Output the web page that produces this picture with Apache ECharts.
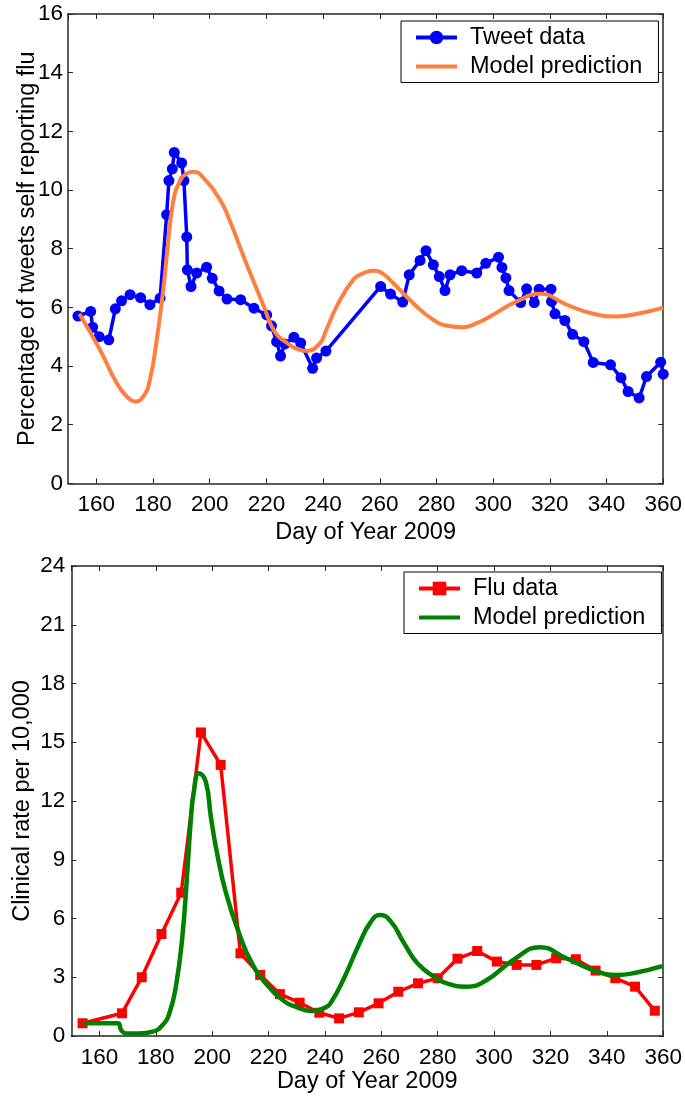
<!DOCTYPE html>
<html><head><meta charset="utf-8">
<script src="https://cdn.jsdelivr.net/npm/echarts@6/dist/echarts.min.js"></script>
<style>html,body{margin:0;padding:0;background:#fff}#c{width:685px;height:1096px}</style>
</head><body><div id="c"></div>
<script>
// ---- Top panel: tweets ----
const tweetDays = [153.5,158,158.7,161,164.4,166.7,168.9,171.9,175.6,178.9,182.5,184.8,185.6,186.8,187.5,190.1,190.9,191.9,192.1,193.4,195.4,198.9,200.9,203.3,206.1,210.9,215.6,220.1,221.8,223.6,225,226.5,229.7,232.1,236.3,237.7,241,260.3,263.8,268.1,270.4,274.2,276.3,278.9,281,283,284.8,288.9,294.2,297.4,301.9,303.1,304.5,305.6,309.7,311.8,314.5,316.2,320.4,320.6,321.8,325.3,328,332,335.3,341.4,345.1,347.6,351.5,354.1,359.1,360];
const tweetValues = [5.7,5.86,5.32,5.0,4.89,5.95,6.22,6.43,6.33,6.09,6.31,9.16,10.32,10.72,11.28,10.92,10.32,8.4,7.28,6.71,7.17,7.37,6.99,6.56,6.28,6.26,5.97,5.74,5.37,4.83,4.34,4.75,4.98,4.78,3.92,4.27,4.51,6.71,6.45,6.18,7.11,7.6,7.93,7.45,7.05,6.57,7.11,7.25,7.17,7.5,7.71,7.36,7.0,6.57,6.16,6.63,6.16,6.62,6.62,6.2,5.78,5.55,5.08,4.83,4.12,4.04,3.6,3.13,2.91,3.64,4.13,3.72];
const modelTopDays = [154,161.3,167.2,170.7,173.6,176.6,178.9,181.3,183.6,185,187.1,189.5,191.9,194.2,198.9,203.6,206,210.7,212.4,218.9,223,227.1,230,234.2,238.9,241,244.8,250.6,254,257.7,261,264.7,271.8,278.9,284,289.4,294,298.9,308.3,316.5,325.9,335.3,343.5,351.8,360];
const modelTopValues = [5.78,4.55,3.41,2.96,2.79,2.96,3.53,4.89,6.6,7.9,9.6,10.3,10.56,10.62,10.29,9.67,9.21,8.05,7.62,6.08,5.15,4.8,4.62,4.51,4.78,5.2,6.03,6.94,7.15,7.25,7.15,6.83,6.14,5.57,5.37,5.32,5.45,5.69,6.2,6.46,6.09,5.78,5.69,5.8,5.99];

// ---- Bottom panel: clinical flu ----
const fluDays = [154,168,175,182,189,196,203,210,217,224,231,238,245,252,259,266,273,280,287,294,301,308,315,322,329,336,343,350,357];
const fluValues = [0.65,1.16,3.0,5.21,7.32,15.5,13.84,4.22,3.12,2.14,1.7,1.19,0.9,1.21,1.67,2.26,2.69,2.95,3.95,4.34,3.8,3.63,3.63,3.97,3.92,3.34,2.95,2.52,1.29];
const modelBottomDays = [154.2,160,166.5,167.7,169.5,174.2,178.9,182.4,184.8,187.1,189.4,191.2,192.4,193.5,195.3,197.7,199.5,201.5,204.7,209.4,214.1,220,225.8,229.5,235,240,242.3,247,251.7,256.3,259.6,263.4,268.1,272.8,278.7,284,290.4,297.4,306.8,316.2,325.6,335,343.2,350.2,359.6];
const modelBottomValues = [0.65,0.65,0.65,0.3,0.13,0.13,0.22,0.56,1.16,2.52,5.07,8.48,11.03,12.5,13.42,12.99,11.2,9.5,7.4,5.3,3.71,2.52,1.75,1.5,1.28,1.45,1.75,3.03,4.56,5.84,6.18,5.84,4.73,3.71,3.03,2.65,2.52,2.86,3.88,4.53,3.97,3.37,3.12,3.23,3.57];

const xLabel = 'Day of Year 2009';
const yLabelTop = 'Percentage of tweets self reporting flu';
const yLabelBottom = 'Clinical rate per 10,000';

const zip = (a, b) => a.map((v, i) => [v, b[i]]);
const FONT = 'Liberation Sans, Arial, Helvetica, sans-serif';
const AX = '#262626';
const LINE_ICON = 'path://M0,0 L41,0 L41,4 L0,4 Z';

function xMain(grid, gap) {
  return {
    type: 'value', gridIndex: grid, min: 150, max: 360, splitNumber: 10,
    name: xLabel, nameLocation: 'middle', nameGap: gap,
    nameTextStyle: {color: '#000', fontSize: 23.5, fontFamily: FONT},
    axisLine: {show: true, onZero: false, lineStyle: {color: AX, width: 1.5}},
    axisTick: {show: true, inside: true, length: 5, lineStyle: {color: AX, width: 1}},
    axisLabel: {color: '#000', fontSize: 22.5, fontFamily: FONT, margin: 10, showMinLabel: false},
    splitLine: {show: false}
  };
}
function xTop(grid) {
  return {
    type: 'value', gridIndex: grid, position: 'top', min: 150, max: 360, splitNumber: 10,
    axisLine: {show: true, onZero: false, lineStyle: {color: AX, width: 1.5}},
    axisTick: {show: true, inside: true, length: 5, lineStyle: {color: AX, width: 1}},
    axisLabel: {show: false}, splitLine: {show: false}
  };
}
function yMain(grid, max, interval, name, gap, margin) {
  return {
    type: 'value', gridIndex: grid, min: 0, max: max, interval: interval,
    name: name, nameLocation: 'middle', nameGap: gap, nameMoveOverlap: false,
    nameTextStyle: {color: '#000', fontSize: 23.5, fontFamily: FONT},
    axisLine: {show: true, onZero: false, lineStyle: {color: AX, width: 1.5}},
    axisTick: {show: true, inside: true, length: 5, lineStyle: {color: AX, width: 1}},
    axisLabel: {color: '#000', fontSize: 22.5, fontFamily: FONT, margin: margin},
    splitLine: {show: false}
  };
}
function yRight(grid, max, interval) {
  return {
    type: 'value', gridIndex: grid, position: 'right', min: 0, max: max, interval: interval,
    axisLine: {show: true, onZero: false, lineStyle: {color: AX, width: 1.5}},
    axisTick: {show: true, inside: true, length: 5, lineStyle: {color: AX, width: 1}},
    axisLabel: {show: false}, splitLine: {show: false}
  };
}
function legend(names, left, top, padL) {
  return {
    data: [{name: names[0]}, {name: names[1], icon: LINE_ICON}],
    orient: 'vertical', left: left, top: top,
    padding: [4.5, 16, 4, padL], itemGap: 5, itemWidth: 41, itemHeight: 17,
    symbolKeepAspect: true,
    lineStyle: {width: 4},
    backgroundColor: '#fff', borderColor: '#000', borderWidth: 1, borderRadius: 0,
    formatter: n => n.trim(),
    textStyle: {color: '#000', fontSize: 23.5, fontFamily: FONT, lineHeight: 23, padding: [0, 0, 0, 8]},
    selectedMode: false
  };
}

const chart = echarts.init(document.getElementById('c'), null, {renderer: 'canvas'});
chart.setOption({
  animation: false,
  backgroundColor: '#fff',
  grid: [
    {left: 68, top: 14, width: 595.3, height: 469.3},
    {left: 71.3, top: 566, width: 595.7, height: 470}
  ],
  xAxis: [xMain(0, 37), xTop(0), xMain(1, 32), xTop(1)],
  yAxis: [
    yMain(0, 16, 2, yLabelTop, 28, 5), yRight(0, 16, 2),
    yMain(1, 24, 3, yLabelBottom, 37, 6), yRight(1, 24, 3)
  ],
  legend: [
    legend(['Tweet data', 'Model prediction'], 401, 21, 13),
    legend(['Flu data', 'Model prediction '], 404, 572, 13)
  ],
  series: [
    {type: 'line', name: 'Tweet data', xAxisIndex: 0, yAxisIndex: 0, data: zip(tweetDays, tweetValues),
     symbol: 'circle', symbolSize: 11, showAllSymbol: true,
     lineStyle: {color: '#0000ff', width: 3.5}, itemStyle: {color: '#0000ff'}, z: 2},
    {type: 'line', name: 'Model prediction', xAxisIndex: 0, yAxisIndex: 0, data: zip(modelTopDays, modelTopValues),
     smooth: 0.5, symbol: 'none', showSymbol: false,
     lineStyle: {color: '#ff7f40', width: 4}, itemStyle: {color: '#ff7f40'}, z: 3},
    {type: 'line', name: 'Flu data', xAxisIndex: 2, yAxisIndex: 2, data: zip(fluDays, fluValues),
     symbol: 'rect', symbolSize: 10, showAllSymbol: true,
     lineStyle: {color: '#ff0000', width: 3.5}, itemStyle: {color: '#ff0000'}, z: 2},
    {type: 'line', name: 'Model prediction ', xAxisIndex: 2, yAxisIndex: 2, data: zip(modelBottomDays, modelBottomValues),
     smooth: 0.5, symbol: 'none', showSymbol: false,
     lineStyle: {color: '#008000', width: 4.5}, itemStyle: {color: '#008000'}, z: 3}
  ]
});
</script>
</body></html>
